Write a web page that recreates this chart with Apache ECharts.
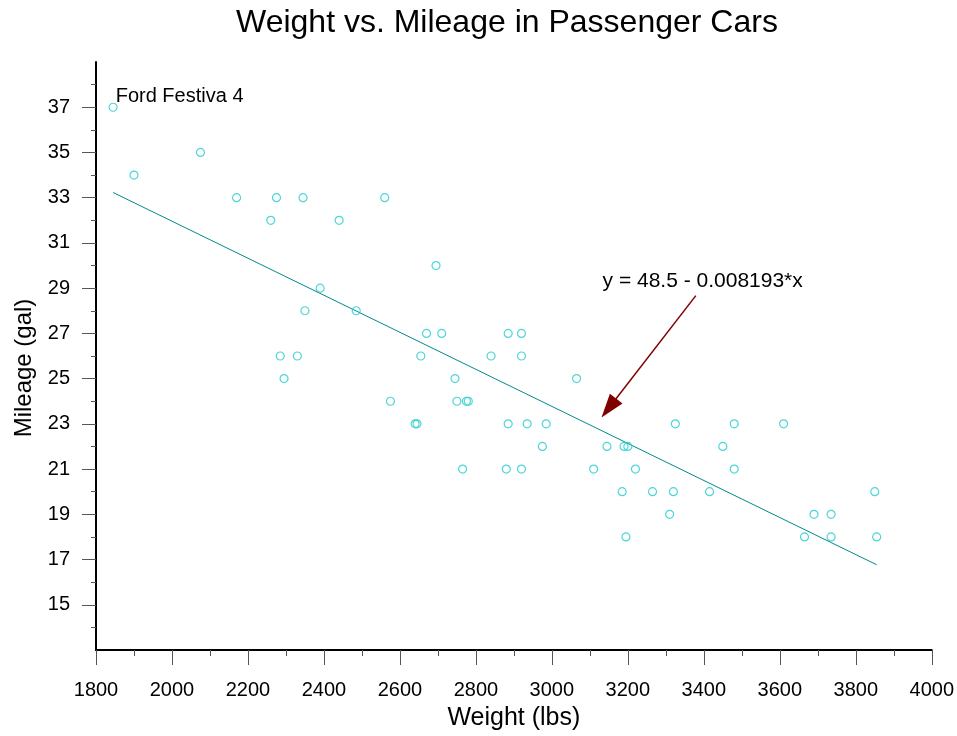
<!DOCTYPE html>
<html>
<head>
<meta charset="utf-8">
<script src="https://cdn.jsdelivr.net/npm/echarts@6/dist/echarts.min.js"></script>
<style>
html,body{margin:0;padding:0;background:#fff;}
#chart{width:957px;height:736px;}
</style>
</head>
<body>
<div id="chart"></div>
<script>
// Car weight (lbs) and mileage (gal)
const carNames = [
  'Eagle Summit 4','Ford Escort 4','Ford Festiva 4','Honda Civic 4','Mazda Protege 4',
  'Mercury Tracer 4','Nissan Sentra 4','Pontiac LeMans 4','Subaru Loyale 4','Subaru Justy 3',
  'Toyota Corolla 4','Toyota Tercel 4','Volkswagen Jetta 4','Chevrolet Camaro V8','Dodge Daytona',
  'Ford Mustang V8','Ford Probe','Honda Civic CRX Si 4','Honda Prelude Si 4WS 4','Nissan 240SX 4',
  'Plymouth Laser','Subaru XT 4','Audi 80 4','Buick Skylark 4','Chevrolet Beretta 4',
  'Chrysler Le Baron V6','Ford Tempo 4','Honda Accord 4','Mazda 626 4','Mitsubishi Galant 4',
  'Mitsubishi Sigma V6','Nissan Stanza 4','Oldsmobile Calais 4','Peugeot 405 4','Subaru Legacy 4',
  'Toyota Camry 4','Volvo 240 4','Acura Legend V6','Buick Century 4','Chrysler Le Baron Coupe',
  'Chrysler New Yorker V6','Eagle Premier V6','Ford Taurus V6','Ford Thunderbird V6','Hyundai Sonata 4',
  'Mazda 929 V6','Nissan Maxima V6','Oldsmobile Cutlass Ciera 4','Oldsmobile Cutlass Supreme V6','Toyota Cressida 6',
  'Buick Le Sabre V6','Chevrolet Caprice V8','Ford LTD Crown Victoria V8','Chevrolet Lumina APV V6','Dodge Grand Caravan V6',
  'Ford Aerostar V6','Mazda MPV V6','Mitsubishi Wagon 4','Nissan Axxess 4','Nissan Van 4'
];
const weights = [
  2560, 2345, 1845, 2260, 2440, 2285, 2275, 2350, 2295, 1900,
  2390, 2075, 2330, 3320, 2885, 3310, 2695, 2170, 2710, 2775,
  2840, 2485, 2670, 2640, 2655, 3065, 2750, 2920, 2780, 2745,
  3110, 2920, 2645, 2575, 2935, 2920, 2985, 3265, 2880, 2975,
  3450, 3145, 3190, 3610, 2885, 3480, 3200, 2765, 3220, 3480,
  3325, 3855, 3850, 3195, 3735, 3665, 3735, 3415, 3185, 3690
];
const mileages = [
  33, 33, 37, 32, 32, 26, 33, 28, 25, 34,
  29, 35, 26, 20, 27, 19, 30, 33, 27, 24,
  26, 28, 27, 23, 26, 25, 24, 26, 24, 25,
  21, 21, 23, 24, 23, 27, 23, 20, 21, 22,
  22, 22, 22, 23, 23, 21, 22, 21, 21, 23,
  23, 18, 20, 18, 18, 18, 19, 20, 20, 19
];
const labelledCar = 'Ford Festiva 4';
// y-axis tick labels
const yTickValues = [15, 17, 19, 21, 23, 25, 27, 29, 31, 33, 35, 37];
// fitted line end points
const fitWeights = [1845, 3855];
const fitMileages = [33.23, 16.77];
const fitText = 'y = 48.5 - 0.008193*x';
// annotation anchor points (data units)
const arrowFrom = [3379, 28.67];
const arrowTo = [3150, 23.70];
const fitTextAt = [3397, 29.31];

const FONT = '"Liberation Sans", Arial, Helvetica, sans-serif';

const scatterData = weights.map((w, i) => {
  const d = { name: carNames[i], value: [w, mileages[i]] };
  if (carNames[i] === labelledCar) {
    d.label = {
      show: true, formatter: carNames[i], position: 'right', distance: 0,
      offset: [-2, -11], fontSize: 20, color: '#000000', opacity: 1,
      textBorderWidth: 0, fontFamily: FONT
    };
  }
  return d;
});

const chart = echarts.init(document.getElementById('chart'), null, { renderer: 'canvas' });
chart.setOption({
  animation: false,
  backgroundColor: '#fff',
  title: {
    text: 'Weight vs. Mileage in Passenger Cars',
    left: 236, top: 7, padding: 0,
    textStyle: { fontSize: 32, fontWeight: 'normal', color: '#000', fontFamily: FONT }
  },
  grid: { left: 96, right: 24, top: 62, bottom: 83, containLabel: false },
  xAxis: {
    type: 'value', min: 1800, max: 4000, interval: 200,
    name: 'Weight (lbs)', nameLocation: 'middle', nameGap: 56,
    nameTextStyle: { fontSize: 25, color: '#000', fontFamily: FONT },
    axisLine: { onZero: false, lineStyle: { color: '#000', width: 2 } },
    axisTick: { show: true, length: 15, lineStyle: { color: '#555', width: 1 } },
    minorTick: { show: true, splitNumber: 2, length: 6, lineStyle: { color: '#555', width: 1 } },
    axisLabel: { fontSize: 20, color: '#000', margin: 30, fontFamily: FONT, formatter: v => String(v) },
    splitLine: { show: false }, minorSplitLine: { show: false }
  },
  yAxis: {
    type: 'value', min: 13, max: 39, interval: 2,
    name: 'Mileage (gal)', nameLocation: 'middle', nameGap: 60, nameRotate: 90,
    nameTextStyle: { fontSize: 24, color: '#000', fontFamily: FONT, padding: [0, 24, 0, 0] },
    axisLine: { onZero: false, lineStyle: { color: '#000', width: 2 } },
    axisTick: { show: true, length: 14, customValues: yTickValues, lineStyle: { color: '#555', width: 1 } },
    minorTick: { show: true, splitNumber: 2, length: 5, lineStyle: { color: '#555', width: 1 } },
    axisLabel: { fontSize: 20, color: '#000', margin: 26, fontFamily: FONT, customValues: yTickValues },
    splitLine: { show: false }, minorSplitLine: { show: false }
  },
  series: [
    {
      type: 'line',
      data: fitWeights.map((w, i) => [w, fitMileages[i]]),
      showSymbol: false, symbol: 'none',
      lineStyle: { color: '#008b8b', width: 1 },
      silent: true, z: 2,
      markLine: {
        silent: true, animation: false,
        symbol: ['none', 'triangle'], symbolSize: [16, 24],
        lineStyle: { color: '#800000', width: 1.5, type: 'solid' },
        itemStyle: { color: '#800000' },
        label: { show: false },
        data: [[{ coord: arrowFrom }, { coord: arrowTo }]]
      },
      markPoint: {
        silent: true, animation: false,
        symbol: 'circle', symbolSize: 1,
        itemStyle: { color: 'rgba(0,0,0,0)' },
        label: { show: true, position: 'inside', formatter: fitText, fontSize: 21, color: '#000', fontFamily: FONT },
        data: [{ coord: fitTextAt }]
      }
    },
    {
      type: 'scatter',
      data: scatterData,
      symbol: 'circle', symbolSize: 8,
      itemStyle: { color: 'rgba(255,255,255,0)', borderColor: '#22cccc', borderWidth: 1.2 },
      z: 3
    }
  ]
});
</script>
</body>
</html>
